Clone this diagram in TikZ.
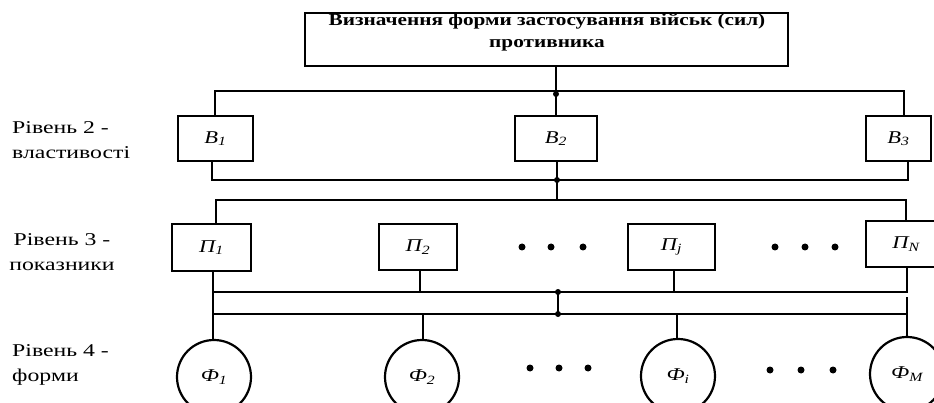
\documentclass[tikz,border=0pt]{standalone}
\usepackage{fontspec}
\setmainfont{Liberation Serif}
\newfontfamily\mainf[FakeStretch=1.25]{Liberation Serif}
\newfontfamily\sidef[FakeStretch=1.32]{Liberation Serif}
\begin{document}
\begin{tikzpicture}[x=1pt,y=-1pt,
  ln/.style={line width=2.2pt},
  box/.style={draw, line width=2.2pt, inner sep=0pt},
  ring/.style={draw, circle, line width=2.2pt, minimum size=74pt, inner sep=0pt},
  bigdot/.style={circle, fill, inner sep=0pt, minimum size=7pt},
  jdot/.style={circle, fill, inner sep=0pt, minimum size=6pt},
  lab/.style={font=\sidef\fontsize{18}{25}\selectfont, inner sep=0pt},
  elab/.style={font=\mainf\itshape\fontsize{18}{20}\selectfont},
  ttl/.style={font=\mainf\bfseries\fontsize{17}{22}\selectfont, align=center, inner sep=0pt}
]
\useasboundingbox (0,0) rectangle (934,403);
\clip (0,0) rectangle (934,403);

% title
\node[box, minimum width=483pt, minimum height=53pt] (top) at (546.5,39.5) {};
\node[ttl] (title) at (547,32.5) {Визначення форми застосування військ (сил)\\противника};

% level labels
\node[lab, align=left, anchor=west] (l2) at (12,140.5) {Рівень 2 -\\властивості};
\node[lab, align=center] (l3) at (62,252) {Рівень 3 -\\показники};
\node[lab, align=left, anchor=west] (l4) at (12,365) {Рівень 4 -\\форми};

% level 2
\node[box, minimum width=75pt, minimum height=45pt, elab] (b1) at (215.5,138.5) {В\textsubscript{1}};
\node[box, minimum width=82pt, minimum height=45pt, elab] (b2) at (556,138.5) {В\textsubscript{2}};
\node[box, minimum width=65pt, minimum height=45pt, elab] (b3) at (898.5,138.5) {В\textsubscript{3}};

% level 3
\node[box, minimum width=79pt, minimum height=47pt, elab] (p1) at (211.5,247.5) {П\textsubscript{1}};
\node[box, minimum width=78pt, minimum height=46pt, elab] (p2) at (418,247) {П\textsubscript{2}};
\node[box, minimum width=87pt, minimum height=46pt, elab] (pj) at (671.5,247) {П\textsubscript{j}};
\node[box, minimum width=80pt, minimum height=46pt, elab] (pn) at (906,244) {П\textsubscript{N}};

% level 4
\node[ring, elab] (f1) at (214,377) {Ф\textsubscript{1}};
\node[ring, elab] (f2) at (422,377) {Ф\textsubscript{2}};
\node[ring, elab] (fi) at (678,376) {Ф\textsubscript{i}};
\node[ring, elab] (fm) at (907,374) {Ф\textsubscript{M}};

% ellipsis dots
\foreach \n/\x/\y in {a1/522/247,a2/551/247,a3/583/247,c1/775/247,c2/805/247,c3/835/247,
                      d1/530/368,d2/559/368,d3/588/368,e1/770/370,e2/801/370,e3/833/370}
  \node[bigdot] (\n) at (\x,\y) {};

% bus coordinates
\coordinate (t0) at (215,91);
\coordinate (t1) at (556,91);
\coordinate (t2) at (904,91);
\coordinate (u0) at (212,180);
\coordinate (u1) at (557,180);
\coordinate (u2) at (908,180);
\coordinate (v0) at (216,200);
\coordinate (v1) at (557,200);
\coordinate (v2) at (906,200);
\coordinate (w0) at (213,292);
\coordinate (w1) at (558,292);
\coordinate (w2) at (907,292);
\coordinate (x0) at (213,314);
\coordinate (x1) at (558,314);
\coordinate (x2) at (907,314);
\coordinate (g2) at (907,297);

% connectors
\draw[ln] (top.south -| t1) -- (b2.north -| t1);
\draw[ln] (b1.north -| t0) -- (t0) -- (t2) -- (b3.north -| t2);
\node[jdot] (j1) at (556,94) {};

\draw[ln] (b1.south -| u0) -- (u0) -- (u2) -- (b3.south -| u2);
\draw[ln] (b2.south -| u1) -- (v1);
\node[jdot] (j2) at (u1) {};

\draw[ln] (p1.north -| v0) -- (v0) -- (v2) -- (pn.north -| v2);

\draw[ln] (p1.south -| w0) -- (f1.north -| w0);
\draw[ln] (w0) -- (w2) -- (pn.south -| w2);
\draw[ln] (p2.south -| 420,0) -- (420,292);
\draw[ln] (pj.south -| 674,0) -- (674,292);
\draw[ln] (w1) -- (x1);
\node[jdot] (j3) at (w1) {};
\node[jdot] (j4) at (x1) {};
\draw[ln] (x0) -- (x2);
\draw[ln] (g2) -- (fm.north);
\draw[ln] (x0 -| 423,0) -- (f2.north -| 423,0);
\draw[ln] (x0 -| 677,0) -- (fi.north -| 677,0);
\end{tikzpicture}
\end{document}
